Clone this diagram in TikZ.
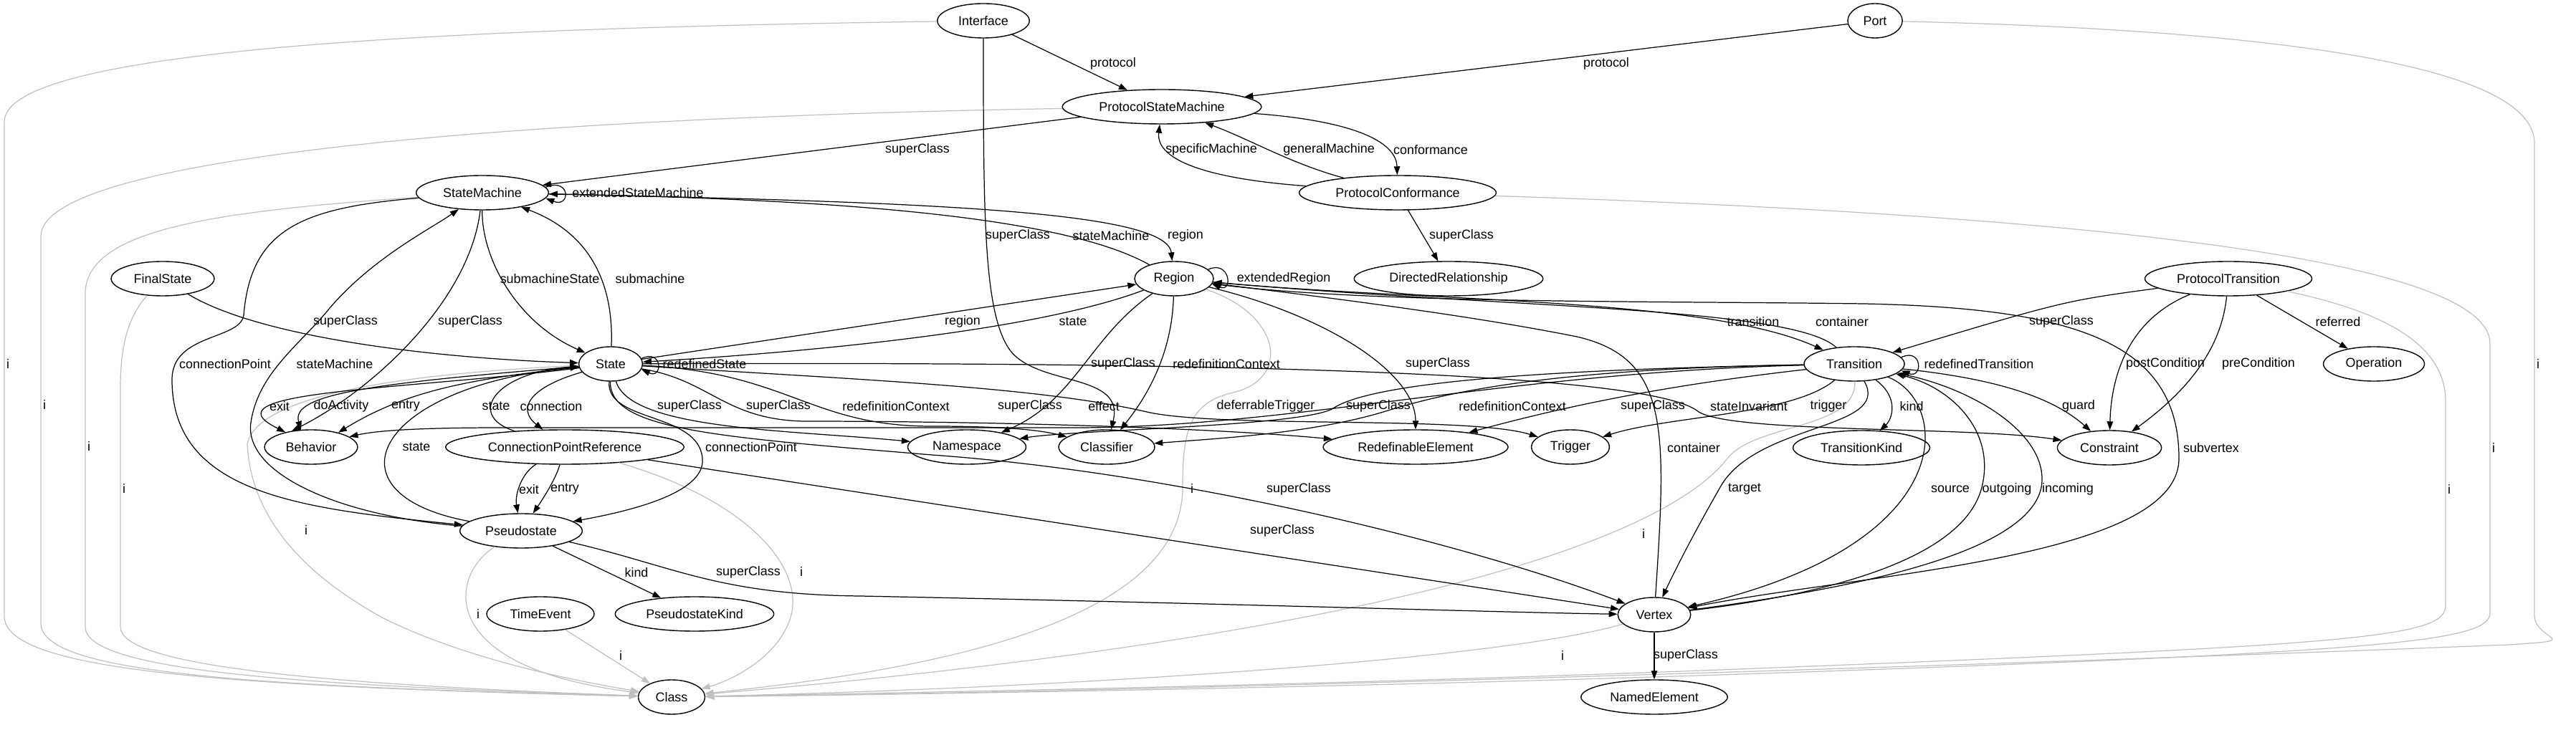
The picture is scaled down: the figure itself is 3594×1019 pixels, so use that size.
\documentclass[tikz,border=0pt]{standalone}
\usepackage{fontspec}
\setmainfont{Liberation Sans}
\usepackage{tikz}
\usetikzlibrary{arrows.meta,shapes.geometric}
\definecolor{igray}{RGB}{192,192,192}
\newcommand{\gvfont}{\fontsize{5.1pt}{6pt}\selectfont}

\begin{document}
\begin{tikzpicture}[
    x=0.1mm, y=-0.1mm,
    cls/.style={ellipse, draw, line width=0.4pt, inner xsep=1.05mm, inner ysep=0.3mm,
        minimum width=7.2mm, minimum height=4.8mm, font=\gvfont},
    lbl/.style={font=\gvfont, inner sep=0pt},
    assoc/.style={-{Triangle[length=1.2mm, width=0.85mm]}, line width=0.35pt},
    inst/.style={-{Triangle[length=1.2mm, width=0.85mm]}, draw=igray, line width=0.35pt}
]
    \useasboundingbox (0,0) rectangle (3594,1019);

    \node[cls] (iface) at (1372,29) {Interface};
    \node[cls] (port) at (2616,29) {Port};
    \node[cls] (psm) at (1621,149) {ProtocolStateMachine};
    \node[cls] (sm) at (673,269) {StateMachine};
    \node[cls] (pconf) at (1950,269) {ProtocolConformance};
    \node[cls] (final) at (227,389) {FinalState};
    \node[cls] (region) at (1638,389) {Region};
    \node[cls] (dirrel) at (2021,389) {DirectedRelationship};
    \node[cls] (ptrans) at (3109,389) {ProtocolTransition};
    \node[cls] (state) at (852,508) {State};
    \node[cls] (trans) at (2587,508) {Transition};
    \node[cls] (oper) at (3312,508) {Operation};
    \node[cls] (behav) at (434,624) {Behavior};
    \node[cls] (cpr) at (788,624) {ConnectionPointReference};
    \node[cls] (ns) at (1349,624) {Namespace};
    \node[cls] (clsf) at (1544,624) {Classifier};
    \node[cls] (redef) at (1975,624) {RedefinableElement};
    \node[cls] (trig) at (2191,624) {Trigger};
    \node[cls] (tkind) at (2597,625) {TransitionKind};
    \node[cls] (constr) at (2943,625) {Constraint};
    \node[cls] (pseudo) at (727,741) {Pseudostate};
    \node[cls] (vertex) at (2308,858) {Vertex};
    \node[cls] (tevent) at (754,857) {TimeEvent};
    \node[cls] (pkind) at (969,857) {PseudostateKind};
    \node[cls] (class) at (937,973) {Class};
    \node[cls] (named) at (2308,973) {NamedElement};

    % instance-of edges
    \draw[inst] (iface) .. controls (600,40) and (6,70) .. (6,170) -- (6,860) .. controls (6,935) and (300,958) .. (class) node[lbl] (i1) at (11,508) {i};
    \draw[inst] (psm) .. controls (700,165) and (57,220) .. (57,330) -- (57,870) .. controls (57,940) and (350,958) .. (class) node[lbl] (i2) at (62,565) {i};
    \draw[inst] (sm) .. controls (300,295) and (119,320) .. (119,410) -- (119,875) .. controls (119,935) and (400,956) .. (class) node[lbl] (i3) at (124,623) {i};
    \draw[inst] (final) .. controls (180,440) and (168,480) .. (168,540) -- (168,875) .. controls (168,930) and (450,955) .. (class) node[lbl] (i4) at (173,682) {i};
    \draw[inst] (state) .. controls (600,520) and (360,545) .. (345,620) .. controls (350,720) and (420,800) .. (535,863) .. controls (650,920) and (800,950) .. (class) node[lbl] (i5) at (427,740) {i};
    \draw[inst] (pseudo) .. controls (630,800) and (600,930) .. (class) node[lbl] (i6) at (667,857) {i};
    \draw[inst] (tevent) -- (class) node[lbl] (i7) at (866,915) {i};
    \draw[inst] (cpr) .. controls (1050,700) and (1130,800) .. (1100,870) .. controls (1080,920) and (1020,950) .. (class) node[lbl] (i8) at (1118,798) {i};
    \draw[inst] (region) .. controls (1790,440) and (1800,530) .. (1720,548) .. controls (1660,562) and (1650,600) .. (1650,680) .. controls (1650,870) and (1300,935) .. (class) node[lbl] (i9) at (1663,682) {i};
    \draw[inst] (trans) .. controls (2590,600) and (2450,590) .. (2410,640) .. controls (2300,780) and (1800,900) .. (class) node[lbl] (i10) at (2293,745) {i};
    \draw[inst] (vertex) .. controls (2100,920) and (1500,960) .. (class) node[lbl] (i11) at (2180,915) {i};
    \draw[inst] (ptrans) .. controls (3300,430) and (3412,470) .. (3412,560) -- (3412,845) .. controls (3412,890) and (3300,900) .. (2400,935) .. controls (1800,958) and (1200,968) .. (class) node[lbl] (i12) at (3417,683) {i};
    \draw[inst] (pconf) .. controls (2900,300) and (3474,360) .. (3474,480) -- (3474,855) .. controls (3474,895) and (3350,910) .. (2400,942) .. controls (1800,962) and (1200,970) .. (class) node[lbl] (i13) at (3479,625) {i};
    \draw[inst] (port) .. controls (3100,40) and (3536,80) .. (3536,200) -- (3536,860) .. controls (3538,895) and (3610,893) .. (3500,900) .. controls (2800,928) and (1600,966) .. (class) node[lbl] (i14) at (3541,508) {i};

    % associations and generalisations
    \draw[assoc] (iface) -- (psm) node[lbl] (lProtoA) at (1553,89) {protocol};
    \draw[assoc] (port) -- (psm) node[lbl] (lProtoB) at (2241,89) {protocol};
    \draw[assoc] (psm) -- (sm) node[lbl] (lSupPsm) at (1280,209) {superClass};
    \draw[assoc] (pconf) .. controls (1690,250) and (1612,225) .. (psm) node[lbl] (lSpec) at (1690,209) {specificMachine};
    \draw[assoc] (pconf) .. controls (1800,228) and (1745,195) .. (psm) node[lbl] (lGen) at (1854,209) {generalMachine};
    \draw[assoc] (psm) .. controls (1880,168) and (1948,195) .. (pconf) node[lbl] (lConf) at (1996,209) {conformance};
    \draw[assoc] (sm.5) .. controls +(35,-14) and +(35,14) .. (sm.-5) node[lbl] (lExtSm) at (890,269) {extendedStateMachine};
    \draw[assoc] (iface) .. controls (1372,300) and (1372,440) .. (1410,490) .. controls (1450,540) and (1570,520) .. (clsf) node[lbl] (lSupIf) at (1420,329) {superClass};
    \draw[assoc] (region) .. controls (1480,300) and (1150,278) .. (sm) node[lbl] (lSmReg) at (1550,329) {stateMachine};
    \draw[assoc] (sm) .. controls (1300,282) and (1628,295) .. (region) node[lbl] (lRegSm) at (1654,329) {region};
    \draw[assoc] (pconf) -- (dirrel) node[lbl] (lSupConf) at (2039,329) {superClass};
    \draw[assoc] (region.15) .. controls +(30,-14) and +(30,12) .. (region.-8) node[lbl] (lExtReg) at (1791,389) {extendedRegion};
    \draw[assoc] (sm) .. controls (672,360) and (720,450) .. (state) node[lbl] (lSubSt) at (767,389) {submachineState};
    \draw[assoc] (state) .. controls (857,380) and (810,320) .. (sm) node[lbl] (lSub) at (907,389) {submachine};
    \draw[assoc] (final) .. controls (360,470) and (600,500) .. (state) node[lbl] (lSupFin) at (482,449) {superClass};
    \draw[assoc] (sm) .. controls (655,420) and (520,545) .. (behav.140) node[lbl] (lSupSm) at (656,449) {superClass};
    \draw[assoc] (state) -- (region) node[lbl] (lStReg) at (1343,449) {region};
    \draw[assoc] (region) .. controls (1450,460) and (1150,490) .. (state) node[lbl] (lRegSt) at (1497,449) {state};
    \draw[assoc] (region) .. controls (2000,422) and (2380,415) .. (trans) node[lbl] (lTrans) at (2446,449) {transition};
    \draw[assoc] (trans) .. controls (2500,428) and (2100,430) .. (region) node[lbl] (lCont) at (2570,449) {container};
    \draw[assoc] (ptrans) .. controls (2880,420) .. (trans) node[lbl] (lSupPt) at (2876,449) {superClass};
    \draw[assoc] (ptrans) -- (oper) node[lbl] (lRef) at (3262,449) {referred};

    \draw[assoc] (sm) .. controls (420,290) and (350,320) .. (340,440) .. controls (335,475) and (240,465) .. (240,530) .. controls (240,690) and (420,710) .. (pseudo) node[lbl] (lCpSm) at (314,508) {connectionPoint};
    \draw[assoc] (pseudo) .. controls (470,720) and (340,660) .. (350,590) .. controls (360,520) and (420,480) .. (460,430) .. controls (520,360) and (600,320) .. (sm) node[lbl] (lSmPs) at (467,508) {stateMachine};
    \draw[assoc] (state.10) .. controls +(30,-14) and +(30,14) .. (state.-10) node[lbl] (lRedSt) at (983,508) {redefinedState};
    \draw[assoc] (region) .. controls (1520,470) and (1500,560) .. (ns) node[lbl] (lSupRegA) at (1567,508) {superClass} node[lbl] (lSupRegB) at (1437,567) {superClass};
    \draw[assoc] (region) .. controls (1635,500) and (1595,560) .. (clsf) node[lbl] (lRdcReg) at (1711,508) {redefinitionContext};
    \draw[assoc] (region) .. controls (1850,440) and (1975,520) .. (redef) node[lbl] (lSupRegC) at (2006,508) {superClass};
    \draw[assoc] (trans.8) .. controls +(30,-14) and +(30,12) .. (trans.-8) node[lbl] (lRedTr) at (2761,508) {redefinedTransition};
    \draw[assoc] (ptrans) .. controls (2960,450) and (2945,540) .. (constr) node[lbl] (lPost) at (3021,508) {postCondition};
    \draw[assoc] (ptrans) .. controls (3100,480) and (3060,540) .. (constr) node[lbl] (lPre) at (3151,508) {preCondition};

    \draw[assoc] (state) .. controls (560,545) and (280,545) .. (behav.150) node[lbl] (lExit) at (390,567) {exit};
    \draw[assoc] (state) .. controls (520,535) and (405,550) .. (behav.120) node[lbl] (lDo) at (476,567) {doActivity};
    \draw[assoc] (state) .. controls (640,530) and (560,550) .. (behav.28) node[lbl] (lEntry) at (566,567) {entry};
    \draw[assoc] (cpr) .. controls (650,580) and (690,520) .. (state) node[lbl] (lStCpr) at (692,567) {state};
    \draw[assoc] (state) .. controls (740,540) and (720,570) .. (cpr) node[lbl] (lConn) at (769,567) {connection};
    \draw[assoc] (state) .. controls (880,600) and (1100,600) .. (ns) node[lbl] (lSupStA) at (962,567) {superClass};
    \draw[assoc] (state) .. controls (990,530) and (1010,585) .. (1120,588) .. controls (1400,588) and (1700,598) .. (redef) node[lbl] (lSupStB) at (1086,567) {superClass};
    \draw[assoc] (state) .. controls (1100,520) and (1130,595) .. (1300,595) .. controls (1400,595) and (1450,600) .. (clsf) node[lbl] (lRdcSt) at (1250,567) {redefinitionContext};
    \draw[assoc] (trans) .. controls (2100,520) and (1800,597) .. (1500,597) -- (700,597) .. controls (600,597) and (530,600) .. (behav.15) node[lbl] (lEffect) at (1540,567) {effect};
    \draw[assoc] (state) .. controls (1200,530) and (1450,540) .. (1600,575) .. controls (1700,598) and (2050,580) .. (trig) node[lbl] (lDefer) at (1766,567) {deferrableTrigger};
    \draw[assoc] (trans) .. controls (2200,515) and (1920,530) .. (1860,570) .. controls (1820,595) and (1500,600) .. (ns) node[lbl] (lSupTrA) at (1923,567) {superClass};
    \draw[assoc] (trans) .. controls (2150,515) and (2010,550) .. (1930,575) .. controls (1830,605) and (1700,612) .. (clsf) node[lbl] (lRdcTr) at (2110,567) {redefinitionContext};
    \draw[assoc] (trans) .. controls (2350,535) and (2210,560) .. (redef) node[lbl] (lSupTrB) at (2306,567) {superClass};
    \draw[assoc] (state) .. controls (1600,505) and (2300,515) .. (2370,575) .. controls (2420,605) and (2750,595) .. (constr) node[lbl] (lInv) at (2440,567) {stateInvariant};
    \draw[assoc] (trans) .. controls (2500,580) and (2330,580) .. (trig) node[lbl] (lTrig) at (2551,567) {trigger};
    \draw[assoc] (trans) .. controls (2650,555) and (2640,585) .. (tkind) node[lbl] (lKindTr) at (2667,567) {kind};
    \draw[assoc] (trans) .. controls (2800,530) and (2870,560) .. (constr) node[lbl] (lGuard) at (2900,567) {guard};

    \draw[assoc] (pseudo) .. controls (450,690) and (520,540) .. (state) node[lbl] (lStPs) at (581,624) {state};
    \draw[assoc] (state) .. controls (845,590) and (975,575) .. (980,640) .. controls (985,690) and (870,715) .. (pseudo) node[lbl] (lCpSt) at (1048,624) {connectionPoint};
    \draw[assoc] (vertex) .. controls (2325,600) and (2330,500) .. (2200,470) .. controls (2050,440) and (1850,415) .. (region) node[lbl] (lContV) at (2363,625) {container};
    \draw[assoc] (region) .. controls (1900,424) and (2300,420) .. (2600,424) .. controls (2900,430) and (3040,480) .. (3040,640) .. controls (3040,780) and (2600,800) .. (vertex) node[lbl] (lSubv) at (3085,625) {subvertex};

    \draw[assoc] (cpr) .. controls (728,660) and (718,690) .. (pseudo) node[lbl] (lExitCp) at (738,683) {exit};
    \draw[assoc] (cpr) .. controls (775,670) and (755,700) .. (pseudo) node[lbl] (lEntryCp) at (788,683) {entry};
    \draw[assoc] (state) .. controls (850,600) and (1000,610) .. (1300,635) .. controls (1650,660) and (2050,760) .. (vertex) node[lbl] (lSupStC) at (1812,683) {superClass};
    \draw[assoc] (trans) .. controls (2640,600) and (2450,590) .. (2400,680) .. controls (2360,750) and (2335,800) .. (vertex) node[lbl] (lTarget) at (2434,683) {target};
    \draw[assoc] (trans) .. controls (2720,560) and (2740,760) .. (vertex) node[lbl] (lSource) at (2721,683) {source};
    \draw[assoc] (vertex) .. controls (2550,830) and (2740,780) .. (2765,680) .. controls (2785,600) and (2720,540) .. (trans) node[lbl] (lOut) at (2800,683) {outgoing};
    \draw[assoc] (vertex) .. controls (2600,820) and (2830,770) .. (2848,680) .. controls (2860,610) and (2760,545) .. (trans) node[lbl] (lIn) at (2885,683) {incoming};

    \draw[assoc] (cpr) -- (vertex) node[lbl] (lSupCpr) at (1789,741) {superClass};
    \draw[assoc] (pseudo) -- (pkind) node[lbl] (lKindPs) at (888,799) {kind};
    \draw[assoc] (pseudo) .. controls (940,790) and (1000,830) .. (1200,832) .. controls (1700,842) and (2100,855) .. (vertex) node[lbl] (lSupPs) at (1044,799) {superClass};
    \draw[assoc] (vertex) -- (named) node[lbl] (lSupV) at (2352,915) {superClass};
\end{tikzpicture}
\end{document}
